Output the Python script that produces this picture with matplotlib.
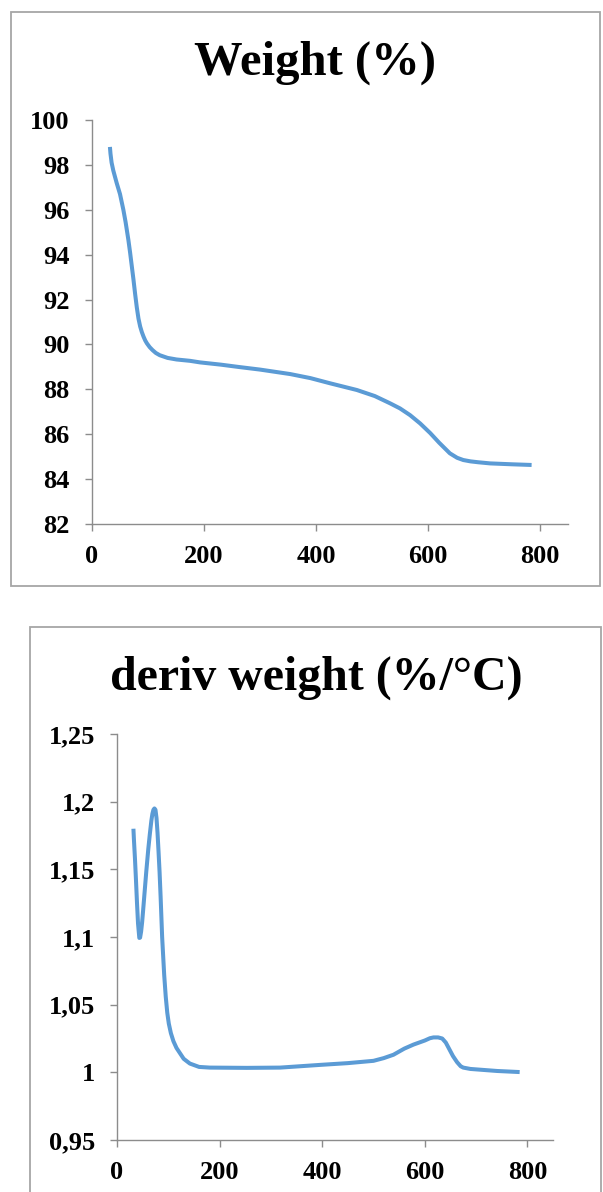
import matplotlib
matplotlib.use("Agg")
import matplotlib.pyplot as plt
from matplotlib.patches import Rectangle
from matplotlib.ticker import FuncFormatter

# Data
temp_w = [32, 33, 35, 38, 44, 50, 56, 60, 65, 68, 71, 74, 77, 80, 83, 86, 89,
          92, 95, 98, 103, 108, 114, 121, 135, 151, 175, 193, 230, 264, 300,
          354, 390, 425, 473, 505, 532, 550, 568, 586, 604, 620, 639, 652, 663,
          676, 690, 711, 750, 785]
weight = [98.8, 98.5, 98.1, 97.75, 97.2, 96.7, 96.0, 95.45, 94.65, 94.1, 93.5,
          92.9, 92.25, 91.65, 91.15, 90.8, 90.55, 90.35, 90.18, 90.05, 89.88,
          89.75, 89.62, 89.52, 89.4, 89.33, 89.27, 89.2, 89.1, 88.99, 88.88,
          88.68, 88.5, 88.27, 87.97, 87.7, 87.38, 87.15, 86.85, 86.48, 86.05,
          85.62, 85.15, 84.95, 84.85, 84.79, 84.75, 84.70, 84.66, 84.63]

temp_d = [32, 33, 35, 37, 39, 41, 43.5, 45, 47, 49, 51, 54, 57, 61, 64, 67, 69,
          71, 73, 75, 77, 79, 81, 83, 85, 88, 92, 95, 98, 101, 105, 110, 116,
          123, 130, 142, 160, 181, 253, 318, 396, 450, 500, 520, 539, 560, 578,
          600, 610, 617, 626, 634, 641, 648, 655, 663, 670, 675, 689, 741, 785]
deriv = [1.180, 1.172, 1.158, 1.142, 1.125, 1.110, 1.0993, 1.0995, 1.104, 1.111,
         1.120, 1.134, 1.148, 1.165, 1.176, 1.186, 1.191, 1.194, 1.195, 1.194,
         1.188, 1.177, 1.163, 1.148, 1.130, 1.100, 1.072, 1.056, 1.044, 1.036,
         1.029, 1.023, 1.018, 1.014, 1.010, 1.0065, 1.004, 1.0035, 1.0033,
         1.0035, 1.0055, 1.0068, 1.0085, 1.0105, 1.013, 1.0175, 1.0205, 1.0235,
         1.0252, 1.0258, 1.0258, 1.025, 1.022, 1.017, 1.012, 1.0075, 1.0045,
         1.0035, 1.0025, 1.0010, 1.0002]

x_ticks = [0, 200, 400, 600, 800]
w_ticks = [82, 84, 86, 88, 90, 92, 94, 96, 98, 100]
d_ticks = [0.95, 1.0, 1.05, 1.1, 1.15, 1.2, 1.25]

W, H = 603, 1192
blue = "#5B9BD5"
axis_grey = "#8C8C8C"
box_grey = "#A6A6A6"

plt.rcParams["font.family"] = ["Liberation Serif", "DejaVu Serif"]
plt.rcParams["font.weight"] = "bold"

fig = plt.figure(figsize=(W / 100, H / 100), dpi=100)


def px_rect(x0, y0, x1, y1):
    # pixel box (top-left origin) -> figure fraction
    return [x0 / W, 1 - y1 / H, (x1 - x0) / W, (y1 - y0) / H]


def chart_box(x0, y0, x1, y1):
    l, b, w, h = px_rect(x0, y0, x1, y1)
    fig.patches.append(Rectangle((l, b), w, h, transform=fig.transFigure,
                                 fill=False, edgecolor=box_grey, lw=1.3))


def style_axes(ax):
    for s in ["top", "right"]:
        ax.spines[s].set_visible(False)
    for s in ["left", "bottom"]:
        ax.spines[s].set_color(axis_grey)
        ax.spines[s].set_linewidth(1.0)
    ax.tick_params(direction="out", length=5, width=1.0, color=axis_grey,
                   labelsize=19)
    ax.tick_params(axis="y", pad=11)
    ax.tick_params(axis="x", pad=10)
    for lab in ax.get_xticklabels() + ax.get_yticklabels():
        lab.set_fontweight("bold")


# Top chart: weight
chart_box(11, 12, 600, 586)
ax1 = fig.add_axes(px_rect(92, 120, 568, 524))
ax1.plot(temp_w, weight, color=blue, lw=2.9, solid_capstyle="butt")
ax1.set_xlim(0, 850)
ax1.set_ylim(82, 100)
ax1.set_xticks(x_ticks)
ax1.set_yticks(w_ticks)
style_axes(ax1)
fig.text(314.5 / W, 1 - 75 / H, "Weight (%)", ha="center", va="baseline",
         fontsize=35, fontweight="bold")

# Bottom chart: derivative weight
chart_box(30, 627, 601, 1230)
ax2 = fig.add_axes(px_rect(117, 734, 553, 1140))
ax2.plot(temp_d, deriv, color=blue, lw=2.9, solid_capstyle="butt")
ax2.set_xlim(0, 850)
ax2.set_ylim(0.95, 1.25)
ax2.set_xticks(x_ticks)
ax2.set_yticks(d_ticks)
ax2.yaxis.set_major_formatter(FuncFormatter(lambda v, p: f"{v:g}".replace(".", ",")))
style_axes(ax2)
fig.text(316 / W, 1 - 690 / H, "deriv weight (%/°C)", ha="center", va="baseline",
         fontsize=34.5, fontweight="bold")

fig.savefig("out.png", dpi=100)
